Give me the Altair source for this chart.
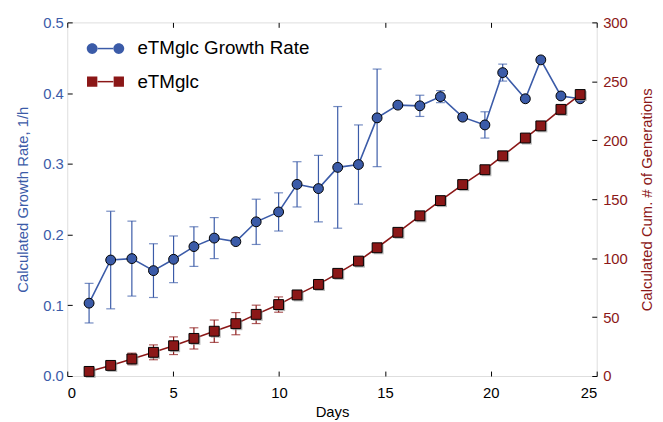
import altair as alt
import pandas as pd

# ---- data ----
days = [1.03, 2.05, 3.05, 4.07, 5.02, 5.98, 6.94, 7.96, 8.92, 9.98, 10.85, 11.86, 12.77,
        13.75, 14.63, 15.61, 16.65, 17.62, 18.67, 19.72, 20.56, 21.63, 22.36, 23.31, 24.22]
growth_rate = [0.103, 0.164, 0.166, 0.149, 0.165, 0.183, 0.195, 0.190, 0.218, 0.232, 0.271,
               0.265, 0.295, 0.299, 0.365, 0.383, 0.382, 0.395, 0.366, 0.355, 0.429, 0.392,
               0.447, 0.396, 0.392]
growth_err = [0.028, 0.069, 0.053, 0.038, 0.033, 0.028, 0.029, 0.0, 0.032, 0.027, 0.032,
              0.047, 0.086, 0.056, 0.069, 0.0, 0.015, 0.0085, 0.004, 0.0186, 0.012, 0.0,
              0.0, 0.0, 0.0]
generations = [3.9, 9.0, 14.5, 20.1, 25.7, 31.9, 38.0, 44.4, 52.3, 60.6, 68.8, 77.7, 87.1,
               97.5, 108.8, 121.9, 135.9, 148.8, 162.4, 175.0, 186.8, 201.9, 212.2, 226.2, 238.8]
gen_err = [0.0, 0.0, 4.9, 6.3, 7.5, 9.0, 9.5, 9.4, 7.8, 6.5, 3.0, 0.0, 0.0, 0.0, 0.0, 0.0,
           0.0, 0.0, 0.0, 0.0, 0.0, 0.0, 0.0, 0.0, 0.0]

series_names = ["eTMglc Growth Rate", "eTMglc"]
x_ticks = [0, 5, 10, 15, 20, 25]
left_ticks = [0.0, 0.1, 0.2, 0.3, 0.4, 0.5]
right_ticks = [0, 50, 100, 150, 200, 250, 300]

BLUE = "#3b5ba8"
RED = "#8b1717"
FONT = "Liberation Sans"

df = pd.DataFrame({"day": days, "rate": growth_rate, "rate_err": growth_err,
                   "gen": generations, "gen_err": gen_err})
df["rate_lo"] = df["rate"] - df["rate_err"]
df["rate_hi"] = df["rate"] + df["rate_err"]
df["gen_lo"] = df["gen"] - df["gen_err"]
df["gen_hi"] = df["gen"] + df["gen_err"]
df["series"] = series_names[0]
df["sb"] = "a"
df["sr"] = "b"

x_scale = alt.Scale(domain=[0, 25], nice=False)

x_bottom = alt.X("day:Q", scale=x_scale, title="Days",
                 axis=alt.Axis(orient="bottom", values=x_ticks, offset=-5, tickSize=5,
                               labelPadding=10, domain=False, grid=False, tickColor="black",
                               labelColor="black", titleColor="black", labelFontSize=15,
                               titleFontSize=15, titleFontWeight="normal", titlePadding=4,
                               labelFont=FONT, titleFont=FONT))
x_top = alt.X("day:Q", scale=x_scale, title=None,
              axis=alt.Axis(orient="top", values=x_ticks, offset=-5, tickSize=5, labels=False,
                            domain=False, grid=False, tickColor="black"))

left_axis = alt.Axis(orient="left", values=left_ticks, format=".1f", offset=-5, tickSize=5,
                     labelPadding=4, domain=False, grid=False, tickColor="black",
                     labelColor=BLUE, titleColor=BLUE, labelFontSize=15, titleFontSize=15,
                     titleFontWeight="normal", titlePadding=12, labelFont=FONT, titleFont=FONT)
right_axis = alt.Axis(orient="right", values=right_ticks, offset=-5, tickSize=5,
                      labelPadding=6, domain=False, grid=False, tickColor="black",
                      labelColor=RED, titleColor=RED, labelFontSize=15, titleFontSize=15,
                      titleFontWeight="normal", titlePadding=12, titleAngle=270,
                      titleBaseline="top", labelFont=FONT, titleFont=FONT)

LT = "Calculated Growth Rate, 1/h"
RT = "Calculated Cum. # of Generations"
ls = alt.Scale(domain=[0, 0.5], nice=False)
rs = alt.Scale(domain=[0, 300], nice=False)

def yl(field):
    return alt.Y(field, scale=ls, axis=left_axis, title=LT)

def yr(field):
    return alt.Y(field, scale=rs, axis=right_axis, title=RT)

legend_common = dict(orient="none", legendX=29.2, legendY=17.0, direction="vertical",
                     labelFont=FONT, labelFontSize=19, symbolSize=121, labelOffset=22.8,
                     rowPadding=13.5, padding=0, labelLimit=400)

circ_path = ("M-3.45,0A1,1,0,1,0,-1.45,0A1,1,0,1,0,-3.45,0Z"
             "M1.45,0A1,1,0,1,0,3.45,0A1,1,0,1,0,1.45,0Z")
sq_path = ("M-3.4,-0.95L-1.5,-0.95L-1.5,0.95L-3.4,0.95Z"
           "M1.5,-0.95L3.4,-0.95L3.4,0.95L1.5,0.95Z")

legend_a = alt.Legend(labelColor="black", symbolStrokeColor="black", symbolStrokeWidth=1,
                      **legend_common)
legend_b = alt.Legend(symbolType="M-1.45,0L1.45,0", symbolStrokeWidth=1.5,
                      symbolFillColor="transparent", labelExpr="' '", **legend_common)
stroke_scale = alt.Scale(domain=["a", "b"], range=[BLUE, RED])

base = alt.Chart(df)
blue_err = base.transform_filter("datum.rate_err > 0")

blue = alt.layer(
    blue_err.mark_rule(color=BLUE, strokeWidth=1.2).encode(
        x=x_bottom, y=yl("rate_lo:Q"), y2="rate_hi:Q"),
    blue_err.transform_fold(["rate_lo", "rate_hi"], as_=["k", "cap"]).mark_tick(
        color=BLUE, orient="horizontal", size=9, thickness=1.2).encode(
        x=x_bottom, y=yl("cap:Q")),
    base.mark_line(strokeWidth=1.6).encode(
        x=x_bottom, y=yl("rate:Q"),
        stroke=alt.Stroke("sb:N", scale=stroke_scale, legend=legend_b, title=None)),
    base.mark_circle(size=100, color=BLUE, opacity=1, stroke="black",
                     strokeWidth=1).encode(x=x_bottom, y=yl("rate:Q")),
    base.transform_filter("datum.day < 0").mark_point(
        filled=True, size=121, stroke="black", strokeWidth=1, opacity=1).encode(
        x=x_bottom, y=yl("rate:Q"),
        shape=alt.Shape("series:N", scale=alt.Scale(domain=series_names,
                                                     range=[circ_path, sq_path]),
                        legend=legend_a, title=None),
        fill=alt.Fill("series:N", scale=alt.Scale(domain=series_names, range=[BLUE, RED]),
                      legend=legend_a, title=None)),
)

red_err = base.transform_filter("datum.gen_err > 0")
red = alt.layer(
    red_err.mark_rule(color=RED, strokeWidth=1.2).encode(
        x=x_top, y=yr("gen_lo:Q"), y2="gen_hi:Q"),
    red_err.transform_fold(["gen_lo", "gen_hi"], as_=["k", "cap"]).mark_tick(
        color=RED, orient="horizontal", size=9, thickness=1.2).encode(
        x=x_top, y=yr("cap:Q")),
    base.mark_line(strokeWidth=1.6).encode(
        x=x_top, y=yr("gen:Q"),
        stroke=alt.Stroke("sr:N", scale=stroke_scale, legend=legend_b, title=None)),
    base.mark_square(size=100, color="#9a9a9a", opacity=0.7, xOffset=1.6,
                     yOffset=1.6).encode(x=x_top, y=yr("gen:Q")),
    base.mark_square(size=100, color=RED, opacity=1, stroke="black",
                     strokeWidth=1).encode(x=x_top, y=yr("gen:Q")),
)

chart = alt.layer(blue, red).resolve_scale(y="independent").resolve_axis(
    x="independent", y="independent"
).properties(
    width=536, height=358,
    autosize=alt.AutoSizeParams(type="none"),
    padding={"left": 60, "top": 12, "right": 59, "bottom": 44},
).configure_view(stroke="black", strokeWidth=1.6).configure(font=FONT)

chart.save("out.html", embed_options={"renderer": "svg", "actions": False})
